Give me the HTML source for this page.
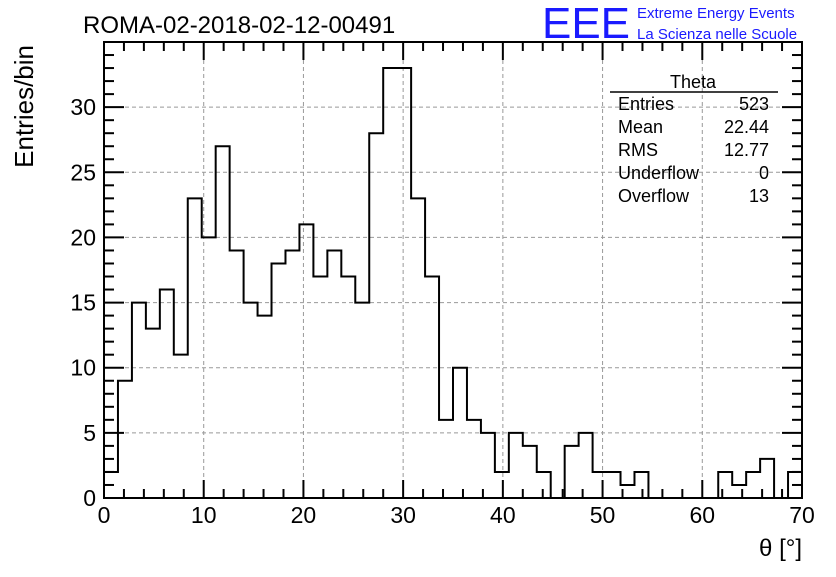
<!DOCTYPE html>
<html><head><meta charset="utf-8"><style>
body{margin:0;background:#fff;}
svg text{font-family:"Liberation Sans",sans-serif;}
</style></head><body>
<svg id="c" width="836" height="572" xmlns="http://www.w3.org/2000/svg">
<rect width="836" height="572" fill="#fff"/>
<text x="83" y="33" font-size="24">ROMA-02-2018-02-12-00491</text>
<text x="542" y="38" font-size="44" fill="#1a1aff" textLength="88" lengthAdjust="spacingAndGlyphs">EEE</text>
<text x="637" y="18" font-size="15" fill="#1a1aff">Extreme Energy Events</text>
<text x="637" y="39" font-size="15" fill="#1a1aff">La Scienza nelle Scuole</text>
<g id="grid"></g>
<g id="hist"></g>
<g id="axes"></g>
<text x="0" y="0" font-size="26" transform="translate(33,45) rotate(-90)" text-anchor="end">Entries/bin</text>
<text x="802" y="556" font-size="24" text-anchor="end">θ [°]</text>
<g font-size="18">
<text x="693" y="88" text-anchor="middle">Theta</text>
<line x1="610" y1="92" x2="778" y2="92" stroke="#000" stroke-width="1.5"/>
<text x="618" y="110">Entries</text><text x="769" y="110" text-anchor="end">523</text>
<text x="618" y="133">Mean</text><text x="769" y="133" text-anchor="end">22.44</text>
<text x="618" y="156">RMS</text><text x="769" y="156" text-anchor="end">12.77</text>
<text x="618" y="179">Underflow</text><text x="769" y="179" text-anchor="end">0</text>
<text x="618" y="202">Overflow</text><text x="769" y="202" text-anchor="end">13</text>
</g>
</svg>
<script>
const counts=[2,9,15,13,16,11,23,20,27,19,15,14,18,19,21,17,19,17,15,28,33,33,23,17,6,10,6,5,2,5,4,2,0,4,5,2,2,1,2,0,0,0,0,0,2,1,2,3,0,2];
const binWidth=1.4;
const xTicks=[0,10,20,30,40,50,60,70];
const yTicks=[0,5,10,15,20,25,30];
const X0=104,X1=802,Y0=498,Y1=42,xMax=70,yMax=35;
const sx=v=>X0+v/xMax*(X1-X0);
const sy=v=>Y0-v/yMax*(Y0-Y1);
const NS="http://www.w3.org/2000/svg";
function mk(t,a,p){const e=document.createElementNS(NS,t);for(const k in a)e.setAttribute(k,a[k]);p.appendChild(e);return e;}
const grid=document.getElementById('grid'),axes=document.getElementById('axes'),hist=document.getElementById('hist');
xTicks.forEach(v=>{if(v>0&&v<xMax){const l=mk('line',{x1:sx(v),x2:sx(v),y1:Y0,y2:Y1,stroke:'#999','stroke-dasharray':'4 3'},grid);}});
yTicks.forEach(v=>{if(v>0){const l=mk('line',{x1:X0,x2:X1,y1:sy(v),y2:sy(v),stroke:'#999','stroke-dasharray':'4 3'},grid);}});
let d='M'+sx(0)+','+sy(0);
counts.forEach((c,i)=>{d+=' L'+sx(i*binWidth)+','+sy(c)+' L'+sx((i+1)*binWidth)+','+sy(c);});
d+=' L'+sx(counts.length*binWidth)+','+sy(0);
const p=mk('path',{d:d,fill:'none',stroke:'#000','stroke-width':2},hist);


const fr=mk('rect',{x:X0,y:Y1,width:X1-X0,height:Y0-Y1,fill:'none',stroke:'#000','stroke-width':2},axes);


for(let v=0;v<=xMax;v+=2){const L=v%10===0?18:9;mk('line',{x1:sx(v),x2:sx(v),y1:Y0,y2:Y0-L,stroke:'#000','stroke-width':2},axes);mk('line',{x1:sx(v),x2:sx(v),y1:Y1,y2:Y1+L,stroke:'#000','stroke-width':2},axes);}
for(let v=0;v<=yMax;v+=1){const L=v%5===0?20:10;mk('line',{x1:X0,x2:X0+L,y1:sy(v),y2:sy(v),stroke:'#000','stroke-width':2},axes);mk('line',{x1:X1,x2:X1-L,y1:sy(v),y2:sy(v),stroke:'#000','stroke-width':2},axes);}
xTicks.forEach(v=>{const t=mk('text',{x:sx(v),y:523,'font-size':23,'text-anchor':'middle'},axes);t.textContent=v;});
yTicks.forEach(v=>{const t=mk('text',{x:96,y:sy(v)+8,'font-size':23,'text-anchor':'end'},axes);t.textContent=v;});
</script>
</body></html>
